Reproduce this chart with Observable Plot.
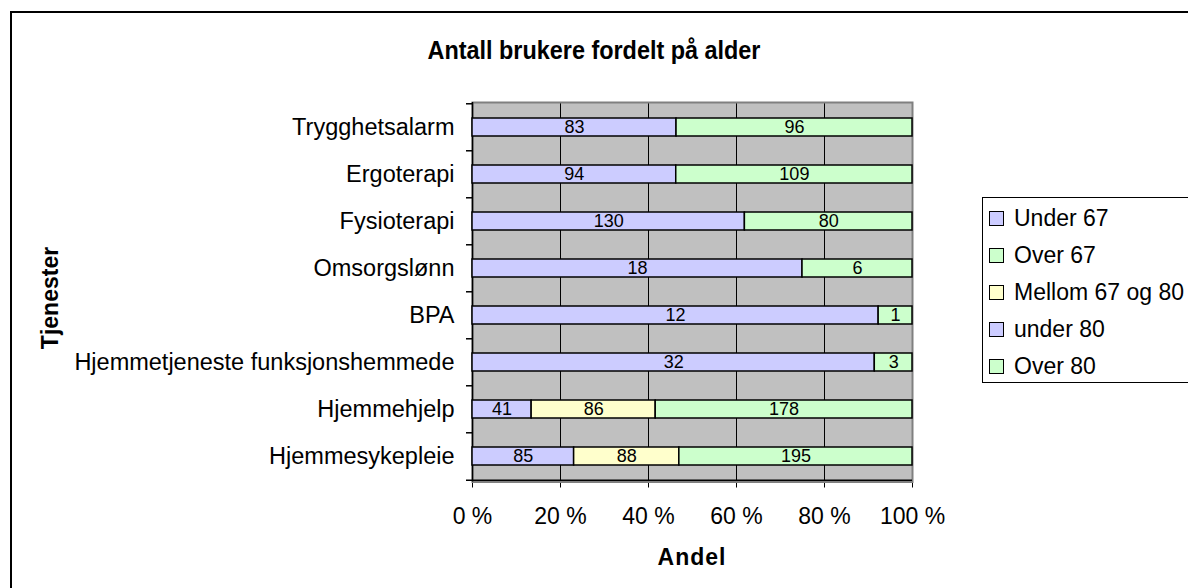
<!DOCTYPE html>
<html>
<head>
<meta charset="utf-8">
<script src="https://cdn.jsdelivr.net/npm/d3@7"></script>
<script src="https://cdn.jsdelivr.net/npm/@observablehq/plot@0.6"></script>
<style>
  body { margin: 0; background: #fff; font-family: "Liberation Sans", Arial, sans-serif; color: #000; }
  #wrap { position: relative; width: 1188px; height: 588px; overflow: hidden; background: #fff; }
  #frame { position: absolute; left: 10px; top: 11px; width: 1400px; height: 800px; border: 2px solid #000; box-sizing: border-box; }
  #title { position: absolute; left: 0; top: 35px; width: 1188px; text-align: center; font-weight: bold; font-size: 26px; line-height: 30px; transform: scaleX(0.9); }
  #ytitle { position: absolute; left: 50px; top: 298px; transform: translate(-50%, -50%) rotate(-90deg); font-weight: bold; font-size: 23px; white-space: nowrap; }
  #xtitle { position: absolute; left: 692px; top: 557px; transform: translate(-50%, -50%); font-weight: bold; font-size: 23px; letter-spacing: 1px; white-space: nowrap; }
  #chart { position: absolute; left: 0; top: 0; }
  #legend { position: absolute; left: 982px; top: 197px; width: 300px; height: 186px; border: 1px solid #000; box-sizing: border-box; padding-top: 2px; background: #fff; }
  .row { height: 37px; display: flex; align-items: center; font-size: 23px; white-space: nowrap; }
  .sw { width: 13px; height: 13px; border: 1px solid #000; margin-left: 6px; margin-right: 10px; flex: none; }
  #chart svg g[aria-label="y-axis tick label"] text { font-size: 23.5px; }
</style>
</head>
<body>
<div id="wrap">
  <div id="frame"></div>
  <div id="chart"></div>
  <div id="title"></div>
  <div id="ytitle"></div>
  <div id="xtitle"></div>
  <div id="legend"></div>
</div>
<script>
// ---- data ----
const titleText = "Antall brukere fordelt på alder";
const yTitle = "Tjenester";
const xTitle = "Andel";
const categories = ["Trygghetsalarm", "Ergoterapi", "Fysioterapi", "Omsorgslønn", "BPA",
  "Hjemmetjeneste funksjonshemmede", "Hjemmehjelp", "Hjemmesykepleie"];
const seriesNames = ["Under 67", "Over 67", "Mellom 67 og 80", "under 80", "Over 80"];
const under67 = [83, 94, 130, 18, 12, 32, 41, 85];
const over67 = [96, 109, 80, 6, 1, 3, 0, 0];
const mellom67og80 = [0, 0, 0, 0, 0, 0, 86, 88];
const under80 = [0, 0, 0, 0, 0, 0, 0, 0];
const over80 = [0, 0, 0, 0, 0, 0, 178, 195];
const seriesColors = ["#ccccff", "#ccffcc", "#ffffcc", "#ccccff", "#ccffcc"];
const xTicks = [0, 0.2, 0.4, 0.6, 0.8, 1];

// ---- table ----
const seriesValues = [under67, over67, mellom67og80, under80, over80];
const rows = [];
categories.forEach((c, i) => {
  seriesNames.forEach((s, j) => {
    const v = seriesValues[j][i];
    if (v > 0) rows.push({category: c, series: s, value: v});
  });
});

// ---- layout ----
const W = 1188, H = 588;
const mL = 472, mR = W - 912, mT = 102, mB = H - 481.5;
const step = (H - mT - mB) / categories.length;

const chart = Plot.plot({
  width: W,
  height: H,
  marginLeft: mL,
  marginRight: mR,
  marginTop: mT,
  marginBottom: mB,
  style: {fontFamily: "Liberation Sans, Arial, sans-serif", fontSize: "23px", color: "#000", background: "transparent"},
  x: {domain: [0, 1], ticks: xTicks, tickFormat: d => Math.round(d * 100) + " %", tickSize: 6, tickPadding: 20, label: null},
  y: {domain: categories, paddingInner: 0.615, paddingOuter: 0.3075, tickSize: 0, tickPadding: 18, label: null},
  color: {domain: seriesNames, range: seriesColors},
  marks: [
    Plot.frame({fill: "#c0c0c0"}),
    Plot.ruleX(xTicks.slice(1, -1), {stroke: "#000", strokeWidth: 1}),
    Plot.frame({stroke: "#808080", strokeWidth: 2}),
    Plot.ruleX([0], {stroke: "#000", strokeWidth: 1.5}),
    Plot.ruleY(categories, {x1: 0, x2: 0, insetLeft: -6, dy: -step / 2, stroke: "#000", strokeWidth: 1.5}),
    Plot.ruleY(categories.slice(-1), {x1: 0, x2: 1, insetLeft: -6, dy: step / 2, stroke: "#000", strokeWidth: 1.5}),
    Plot.barX(rows, Plot.stackX({
      x: "value", y: "category", z: "series", fill: "series",
      order: seriesNames, offset: "normalize",
      stroke: "#000", strokeWidth: 1.5
    })),
    Plot.text(rows, Plot.stackX({
      x: "value", y: "category", z: "series",
      order: seriesNames, offset: "normalize",
      text: d => String(d.value), fontSize: 18, fill: "#000"
    }))
  ]
});
document.getElementById("chart").appendChild(chart);

document.getElementById("title").textContent = titleText;
document.getElementById("ytitle").textContent = yTitle;
document.getElementById("xtitle").textContent = xTitle;

const legend = document.getElementById("legend");
seriesNames.forEach((s, j) => {
  const row = document.createElement("div");
  row.className = "row";
  const sw = document.createElement("div");
  sw.className = "sw";
  sw.style.background = seriesColors[j];
  const lab = document.createElement("span");
  lab.textContent = s;
  row.appendChild(sw);
  row.appendChild(lab);
  legend.appendChild(row);
});
</script>
</body>
</html>
